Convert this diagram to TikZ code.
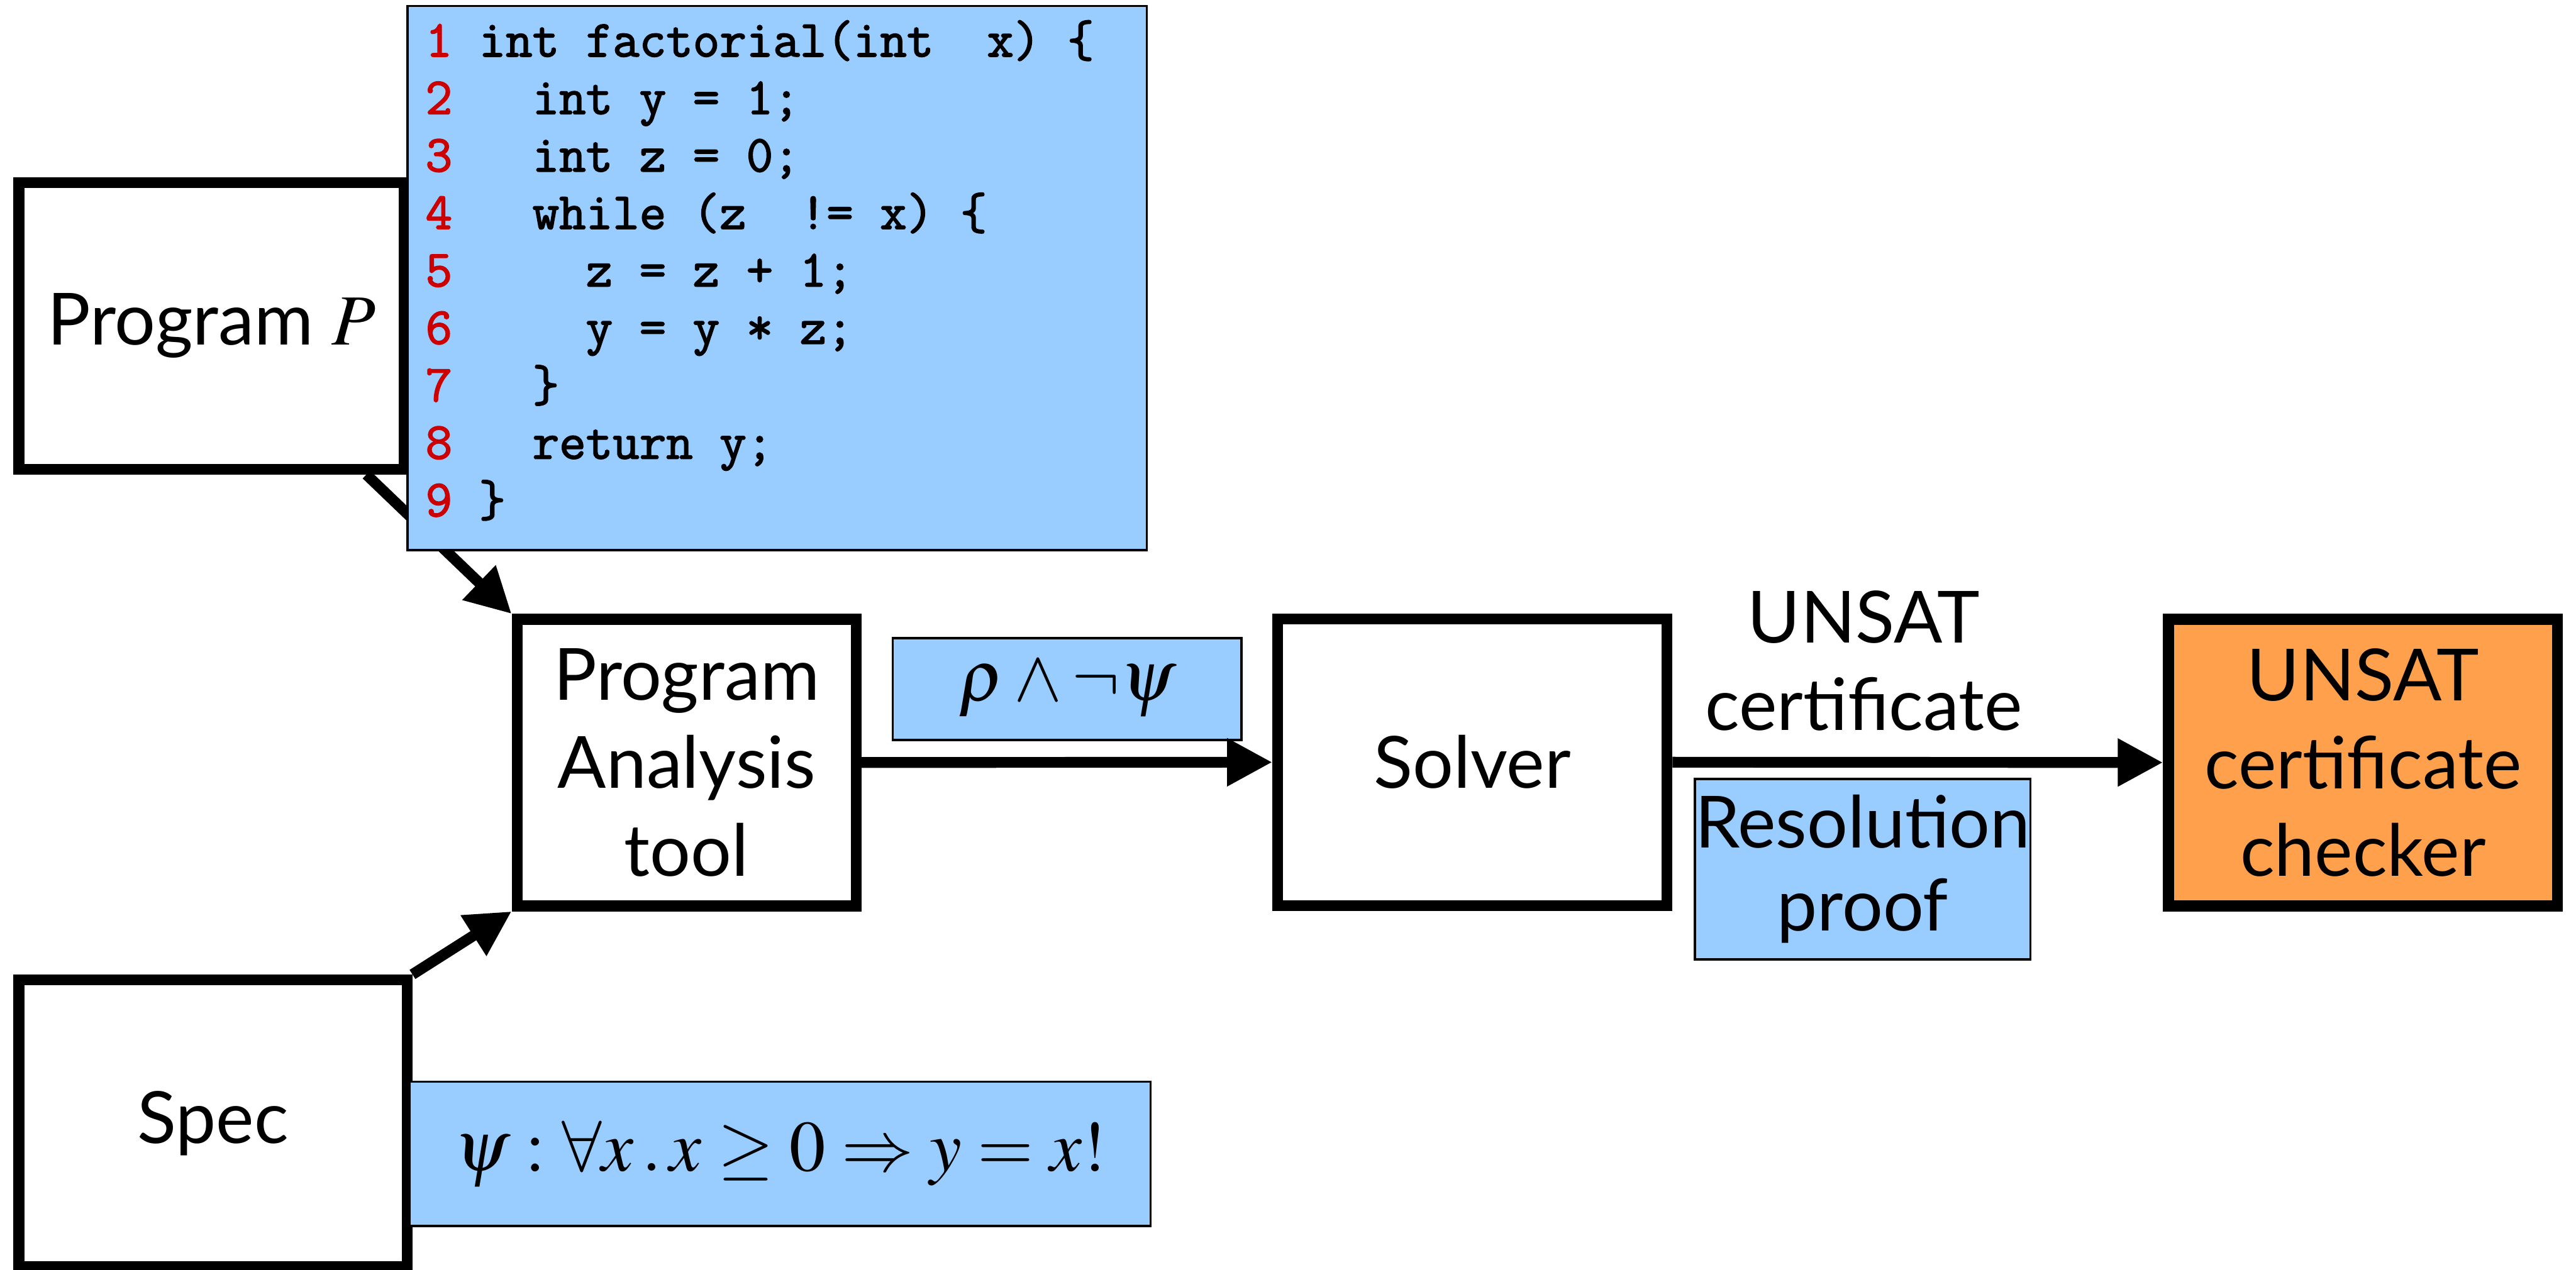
\documentclass[tikz,border=0pt]{standalone}
\usepackage{mathptmx}
\usepackage[no-math]{fontspec}
\setmainfont{Lato}
\newfontfamily\codefont[FakeBold=2.2]{Latin Modern Mono}
\usetikzlibrary{arrows.meta,backgrounds}

\definecolor{noteblue}{RGB}{153,204,255}
\definecolor{checkorange}{RGB}{255,160,76}
\definecolor{linered}{RGB}{204,0,0}

\tikzstyle{stage}=[draw,line width=2.85pt,fill=white,minimum height=2.66cm,inner sep=0pt,align=center,font=\fontsize{19}{23.2}\selectfont]
\tikzstyle{note}=[draw,line width=0.6pt,fill=noteblue,inner sep=0pt,align=center,font=\fontsize{19}{22}\selectfont]
\tikzstyle{codeline}=[anchor=base west,inner sep=0pt,font=\codefont\fontsize{13.7}{15}\selectfont]
\tikzstyle{flow}=[draw,line width=2.85pt,-{Triangle[length=0.42cm,width=0.42cm]}]

\begin{document}
\begin{tikzpicture}
  \useasboundingbox (0,0) rectangle (23.89,11.78);
  % First we draw the stages
  \foreach \pos/\name/\boxw/\la in {{(1.9625,8.7575)/prog/3.575/Program $P$}, {(1.975,1.36)/spec/3.6/Spec},
                                    {(6.3675,4.705)/pa/3.145/Program\\Analysis\\tool}, {(13.655,4.71)/solver/3.61/Solver}}
    \node[stage,minimum width=\boxw cm] (\name) at \pos {\la};
  \node[stage,fill=checkorange,minimum width=3.61cm] (checker) at (21.915,4.705) {UNSAT\\certificate\\checker};

  % Then the blue notes
  \node[note,minimum width=6.855cm,minimum height=5.05cm] (code) at (7.2075,9.2) {};
  \node[note,minimum width=3.235cm,minimum height=0.945cm] (rho) at (9.8975,5.3875) {$\rho \wedge \neg\psi$};
  \node[note,minimum width=6.87cm,minimum height=1.34cm] (psi) at (7.235,1.075) {$\psi : \forall x\,.\,x \geq 0 \Rightarrow y = x!$};
  \node[note,minimum width=3.11cm,minimum height=1.675cm] (proof) at (17.275,3.7175) {Resolution\\proof};

  % The listing, one line at a time
  \foreach \n/\txt in {1/{int factorial(int~~x) \{}, 2/{~~int y = 1;}, 3/{~~int z = 0;},
                       4/{~~while (z~~!= x) \{}, 5/{~~~~z = z + 1;}, 6/{~~~~y = y * z;},
                       7/{~~\}}, 8/{~~return y;}, 9/{\}}}
    \node[codeline] (line\n) at ([xshift=0.17cm,yshift={-0.48cm-(\n-1)*0.533cm}]code.north west)
      {\textcolor{linered}{\n}~\txt};

  % Connect the stages
  \begin{scope}[on background layer]
    \path[flow] (prog) -- (pa.north west);
  \end{scope}
  \path[flow] (spec.north east) -- (pa.south west);
  \path[flow] (pa) -- (solver);
  \path[flow] (solver) -- node[pos=0.39,above=0.24cm,inner sep=0pt,align=center,font=\fontsize{19}{23.2}\selectfont] (cert) {UNSAT\\certificate} (checker);
\end{tikzpicture}
\end{document}
